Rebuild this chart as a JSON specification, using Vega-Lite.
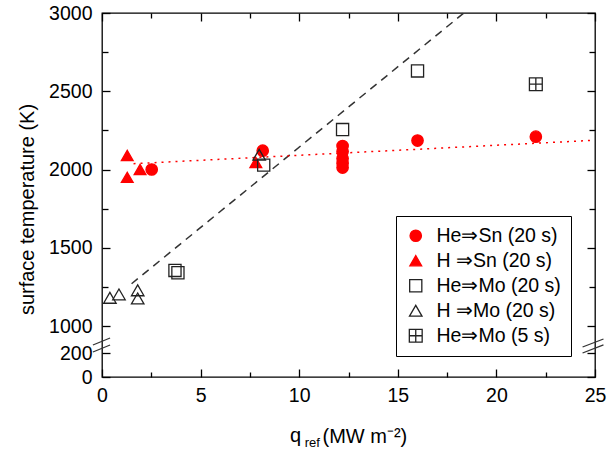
{
  "$schema": "https://vega.github.io/schema/vega-lite/v6.json",
  "width": 493,
  "height": 364,
  "autosize": {"type": "none"},
  "padding": {"left": 102, "top": 13, "right": 13, "bottom": 80},
  "background": "white",
  "config": {
    "view": {"stroke": "black", "strokeWidth": 1.3},
    "font": "Liberation Sans",
    "axis": {
      "domain": false,
      "grid": false,
      "labelFont": "Liberation Sans",
      "titleFont": "Liberation Sans",
      "labelColor": "black",
      "titleColor": "black",
      "tickColor": "black",
      "tickWidth": 1.3,
      "labelFontSize": 19.5,
      "titleFontSize": 20,
      "titleFontWeight": "normal",
      "labelFlush": false,
      "labelOverlap": false
    },
    "legend": {
      "orient": "none",
      "legendX": 294,
      "legendY": 203,
      "padding": 10,
      "strokeColor": "black",
      "fillColor": "white",
      "labelFont": "Arial",
      "labelFontSize": 19.5,
      "labelColor": "black",
      "labelOffset": 11,
      "rowPadding": 4,
      "symbolStrokeWidth": 1.3,
      "symbolOpacity": 1,
      "labelLimit": 400
    }
  },
  "datasets": {
    "points": [
      {"series": "He⇒Sn (20 s)", "q": 2.52, "T": 2000},
      {"series": "He⇒Sn (20 s)", "q": 8.15, "T": 2120},
      {"series": "He⇒Sn (20 s)", "q": 12.2, "T": 2150},
      {"series": "He⇒Sn (20 s)", "q": 12.2, "T": 2115},
      {"series": "He⇒Sn (20 s)", "q": 12.2, "T": 2070},
      {"series": "He⇒Sn (20 s)", "q": 12.2, "T": 2040},
      {"series": "He⇒Sn (20 s)", "q": 12.2, "T": 2012},
      {"series": "He⇒Sn (20 s)", "q": 16.0, "T": 2185},
      {"series": "He⇒Sn (20 s)", "q": 22.0, "T": 2210},
      {"series": "H ⇒Sn (20 s)", "q": 1.28, "T": 2090},
      {"series": "H ⇒Sn (20 s)", "q": 1.28, "T": 1950},
      {"series": "H ⇒Sn (20 s)", "q": 1.93, "T": 2000},
      {"series": "H ⇒Sn (20 s)", "q": 7.8, "T": 2045},
      {"series": "He⇒Mo (20 s)", "q": 3.7, "T": 1355},
      {"series": "He⇒Mo (20 s)", "q": 3.85, "T": 1340},
      {"series": "He⇒Mo (20 s)", "q": 8.2, "T": 2028},
      {"series": "He⇒Mo (20 s)", "q": 12.2, "T": 2255},
      {"series": "He⇒Mo (20 s)", "q": 16.0, "T": 2630},
      {"series": "H ⇒Mo (20 s)", "q": 0.4, "T": 1180},
      {"series": "H ⇒Mo (20 s)", "q": 0.86, "T": 1202},
      {"series": "H ⇒Mo (20 s)", "q": 1.81, "T": 1228},
      {"series": "H ⇒Mo (20 s)", "q": 1.81, "T": 1176},
      {"series": "H ⇒Mo (20 s)", "q": 7.97, "T": 2094},
      {"series": "He⇒Mo (5 s)", "q": 22.0, "T": 2545}
    ],
    "fits": [
      {"line": "dashed", "q": 1.5, "T": 1270},
      {"line": "dashed", "q": 18.35, "T": 3000},
      {"line": "dotted", "q": 1.6, "T": 2037},
      {"line": "dotted", "q": 25, "T": 2187}
    ],
    "breaks": [
      {"q1": -0.46, "T1": 443, "q2": 0.41, "T2": 648},
      {"q1": -0.46, "T1": 238, "q2": 0.41, "T2": 443},
      {"q1": 24.37, "T1": 385, "q2": 25.43, "T2": 619},
      {"q1": 24.37, "T1": 209, "q2": 25.43, "T2": 444}
    ],
    "titleparts": [
      {"part": "main", "label": "q", "q": 9.82, "T": 0},
      {"part": "sub", "label": "ref", "q": 10.66, "T": 0}
    ]
  },
  "layer": [
    {
      "data": {"name": "fits"},
      "transform": [{"filter": "datum.line === 'dashed'"}],
      "mark": {"type": "line", "stroke": "#333333", "strokeWidth": 1.5, "strokeDash": [8, 6]},
      "encoding": {
        "x": {"field": "q", "type": "quantitative",
          "scale": {"domain": [0, 25], "nice": false, "zero": false},
          "axis": {"orient": "top", "values": [0, 2.5, 5, 7.5, 10, 12.5, 15, 17.5, 20, 22.5, 25], "labels": false, "title": null,
            "tickSize": {"condition": {"test": "datum.value % 5 === 0", "value": -8}, "value": -5}}},
        "y": {"field": "T", "type": "quantitative",
          "scale": {"domain": [0, 200, 1000, 3000], "range": [364, 340.3, 313, 0], "nice": false, "zero": false},
          "axis": {"orient": "right", "values": [0, 200, 1000, 1250, 1500, 1750, 2000, 2250, 2500, 2750, 3000], "labels": false, "title": null,
            "tickSize": {"condition": {"test": "datum.value % 500 === 0 || datum.value === 200", "value": -8}, "value": -6}}}
      }
    },
    {
      "data": {"name": "fits"},
      "transform": [{"filter": "datum.line === 'dotted'"}],
      "mark": {"type": "line", "stroke": "#ff0000", "strokeWidth": 1.5, "strokeDash": [2, 5]},
      "encoding": {
        "x": {"field": "q", "type": "quantitative", "axis": null},
        "y": {"field": "T", "type": "quantitative", "axis": null}
      }
    },
    {
      "data": {"name": "points"},
      "mark": {"type": "point", "strokeWidth": 1.3, "opacity": 1},
      "encoding": {
        "x": {"field": "q", "type": "quantitative",
          "axis": {"orient": "bottom", "values": [0, 2.5, 5, 7.5, 10, 12.5, 15, 17.5, 20, 22.5, 25],
            "labelExpr": "datum.value % 5 === 0 ? datum.label : ''",
            "tickSize": {"condition": {"test": "datum.value % 5 === 0", "value": -8}, "value": -5},
            "labelPadding": 17,
            "title": "(MW m\u207b\u00b2)", "titleBaseline": "alphabetic", "titleAlign": "left", "titleAnchor": "start", "titleX": 220, "titleY": 65}},
        "y": {"field": "T", "type": "quantitative",
          "axis": {"orient": "left", "values": [0, 200, 1000, 1250, 1500, 1750, 2000, 2250, 2500, 2750, 3000],
            "format": "d",
            "labelExpr": "(datum.value % 500 === 0 || datum.value === 200) ? datum.label : ''",
            "tickSize": {"condition": {"test": "datum.value % 500 === 0 || datum.value === 200", "value": -8}, "value": -6},
            "labelPadding": 18,
            "title": "surface temperature (K)", "titleX": -69, "titleY": 196, "titleBaseline": "alphabetic"}},
        "shape": {"field": "series", "type": "nominal",
          "scale": {"domain": ["He⇒Sn (20 s)", "H ⇒Sn (20 s)", "He⇒Mo (20 s)", "H ⇒Mo (20 s)", "He⇒Mo (5 s)"],
            "range": ["circle", "triangle-up", "square", "triangle-up", "M-1,-1H1V1H-1Z M0,-1V1 M-1,0H1"]},
          "legend": {"title": null}},
        "fill": {"field": "series", "type": "nominal",
          "scale": {"domain": ["He⇒Sn (20 s)", "H ⇒Sn (20 s)", "He⇒Mo (20 s)", "H ⇒Mo (20 s)", "He⇒Mo (5 s)"],
            "range": ["#ff0000", "#ff0000", "transparent", "transparent", "transparent"]},
          "legend": {"title": null}},
        "stroke": {"field": "series", "type": "nominal",
          "scale": {"domain": ["He⇒Sn (20 s)", "H ⇒Sn (20 s)", "He⇒Mo (20 s)", "H ⇒Mo (20 s)", "He⇒Mo (5 s)"],
            "range": ["#ff0000", "#ff0000", "#222222", "#222222", "#222222"]},
          "legend": {"title": null}},
        "size": {"field": "series", "type": "nominal",
          "scale": {"domain": ["He⇒Sn (20 s)", "H ⇒Sn (20 s)", "He⇒Mo (20 s)", "H ⇒Mo (20 s)", "He⇒Mo (5 s)"],
            "range": [130, 165, 80, 165, 80]},
          "legend": {"title": null}}
      }
    },
    {
      "data": {"name": "breaks"},
      "mark": {"type": "rule", "stroke": "#333333", "strokeWidth": 1.3},
      "encoding": {
        "x": {"field": "q1", "type": "quantitative", "axis": null},
        "x2": {"field": "q2"},
        "y": {"field": "T1", "type": "quantitative", "axis": null},
        "y2": {"field": "T2"}
      }
    },
    {
      "data": {"name": "titleparts"},
      "transform": [{"filter": "datum.part === 'main'"}],
      "mark": {"type": "text", "fontSize": 20, "dy": 65, "baseline": "alphabetic", "align": "center", "font": "Liberation Sans", "color": "black"},
      "encoding": {
        "x": {"field": "q", "type": "quantitative", "axis": null},
        "y": {"field": "T", "type": "quantitative", "axis": null},
        "text": {"field": "label"}
      }
    },
    {
      "data": {"name": "titleparts"},
      "transform": [{"filter": "datum.part === 'sub'"}],
      "mark": {"type": "text", "fontSize": 13, "dy": 70, "baseline": "alphabetic", "align": "center", "font": "Liberation Sans", "color": "black"},
      "encoding": {
        "x": {"field": "q", "type": "quantitative", "axis": null},
        "y": {"field": "T", "type": "quantitative", "axis": null},
        "text": {"field": "label"}
      }
    }
  ],
  "resolve": {"axis": {"x": "independent", "y": "independent"}}
}
